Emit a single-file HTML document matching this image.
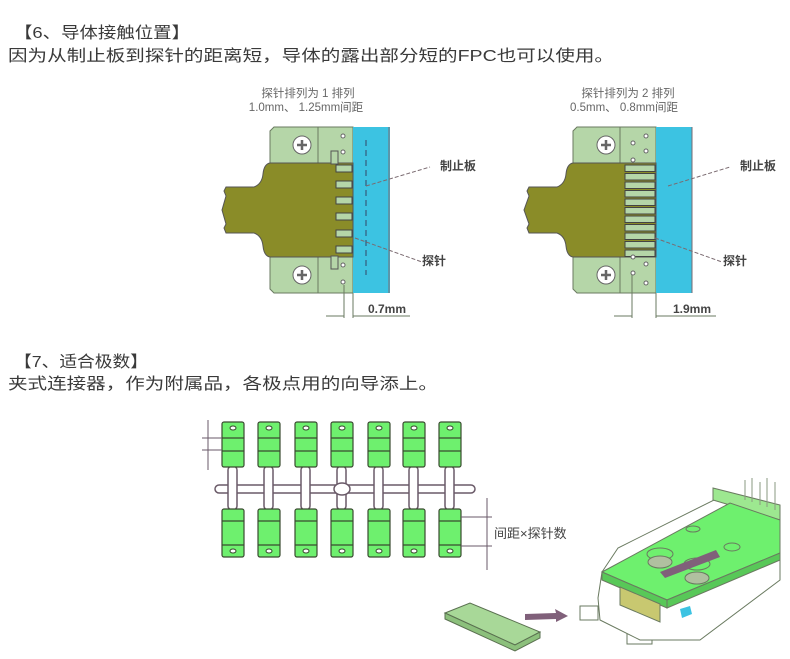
<!DOCTYPE html>
<html><head><meta charset="utf-8"><style>
html,body{margin:0;padding:0;background:#fff;}
svg{display:block;}
text{font-family:"Liberation Sans","Noto Sans CJK SC",sans-serif;}
</style></head><body>
<svg width="790" height="659" viewBox="0 0 790 659" xmlns="http://www.w3.org/2000/svg">
<g fill="#3a3a3a" font-size="16">
<text x="14" y="38" textLength="176" lengthAdjust="spacingAndGlyphs">【6、导体接触位置】</text>
<text x="8" y="61" textLength="606" lengthAdjust="spacingAndGlyphs">因为从制止板到探针的距离短，导体的露出部分短的FPC也可以使用。</text>
<text x="14" y="367" textLength="134" lengthAdjust="spacingAndGlyphs">【7、适合极数】</text>
<text x="8" y="389" textLength="430" lengthAdjust="spacingAndGlyphs">夹式连接器，作为附属品，各极点用的向导添上。</text>
</g>
<g fill="#666" font-size="11.5">
<text x="308" y="97" text-anchor="middle">探针排列为 1 排列</text>
<text x="306" y="111" text-anchor="middle">1.0mm、 1.25mm间距</text>
<text x="628" y="97" text-anchor="middle">探针排列为 2 排列</text>
<text x="624" y="111" text-anchor="middle">0.5mm、 0.8mm间距</text>
</g>

<!-- Diagram 1 -->
<g>
<path d="M274,127 H353 V293 H274 L270,289 V131 Z" fill="#b5d6a8" stroke="#6a7a60" stroke-width="1"/>
<line x1="318" y1="127" x2="318" y2="293" stroke="#6a7a60"/>
<rect x="353" y="127" width="37" height="166" fill="#3cc3e2"/>
<line x1="389" y1="127" x2="389" y2="293" stroke="#7a6a70"/>
<line x1="366" y1="140" x2="366" y2="275" stroke="#346" stroke-dasharray="6,4"/>
<path d="M270,163 H353 V257 H270 Q264,256 263,246 Q262,236 254,233 H226 L224,228 L226,224 L222,210 L226,196 L224,191 L226,187 H254 Q262,184 263,174 Q264,164 270,163 Z" fill="#8a8c28" stroke="#555" stroke-width="1"/>
<g fill="#b5d6a8" stroke="#444" stroke-width="1">
<rect x="336" y="165" width="16" height="7"/><rect x="336" y="181" width="16" height="7"/>
<rect x="336" y="197" width="16" height="7"/><rect x="336" y="213" width="16" height="7"/>
<rect x="336" y="230" width="16" height="7"/><rect x="336" y="246" width="16" height="7"/>
</g>
<rect x="331" y="151" width="7" height="13" fill="#b5d6a8" stroke="#555"/>
<rect x="331" y="256" width="7" height="13" fill="#b5d6a8" stroke="#555"/>
<g fill="#fff" stroke="#666"><circle cx="302" cy="145" r="9"/><circle cx="302" cy="275" r="9"/></g>
<g stroke="#666" stroke-width="2.5"><path d="M297,145 H307 M302,140 V150 M297,275 H307 M302,270 V280"/></g>
<g fill="#fff" stroke="#666"><circle cx="343" cy="136" r="2"/><circle cx="343" cy="152" r="2"/><circle cx="343" cy="265" r="2"/><circle cx="343" cy="282" r="2"/></g>
<path d="M366,186 L430,167" stroke="#7a6a70" stroke-dasharray="4,2" fill="none"/>
<path d="M355,238 L422,262" stroke="#7a6a70" stroke-dasharray="4,2" fill="none"/>
<g stroke="#6a7a60"><line x1="344" y1="285" x2="344" y2="318"/><line x1="353" y1="293" x2="353" y2="318"/></g>
<path d="M326,316 H344 M353,316 H410" stroke="#6a7a60" fill="none"/>
</g>
<g fill="#444" font-size="12" font-weight="bold">
<text x="440" y="170">制止板</text><text x="422" y="265">探针</text>
<text x="368" y="313">0.7mm</text>
<text x="740" y="170">制止板</text><text x="723" y="265">探针</text>
<text x="673" y="313">1.9mm</text>
</g>

<!-- Diagram 2 -->
<g>
<path d="M577,127 H656 V293 H577 L573,289 V131 Z" fill="#b5d6a8" stroke="#6a7a60"/>
<line x1="620" y1="127" x2="620" y2="293" stroke="#6a7a60"/>
<rect x="656" y="127" width="36" height="166" fill="#3cc3e2"/>
<line x1="692" y1="127" x2="692" y2="293" stroke="#7a6a70"/>
<path d="M573,163 H656 V257 H573 Q567,256 566,246 Q565,236 557,233 H529 L527,228 L529,224 L524,210 L529,196 L527,191 L529,187 H557 Q565,184 566,174 Q567,164 573,163 Z" fill="#8a8c28" stroke="#555"/>
<g fill="#b5d6a8" stroke="#444">
<rect x="625" y="165" width="30" height="6.5"/><rect x="625" y="173.5" width="30" height="6.5"/>
<rect x="625" y="182" width="30" height="6.5"/><rect x="625" y="190.5" width="30" height="6.5"/>
<rect x="625" y="199" width="30" height="6.5"/><rect x="625" y="207.5" width="30" height="6.5"/>
<rect x="625" y="216" width="30" height="6.5"/><rect x="625" y="224.5" width="30" height="6.5"/>
<rect x="625" y="233" width="30" height="6.5"/><rect x="625" y="241.5" width="30" height="6.5"/>
<rect x="625" y="250" width="30" height="6.5"/>
</g>
<g fill="#fff" stroke="#666"><circle cx="606" cy="145" r="9"/><circle cx="606" cy="275" r="9"/></g>
<g stroke="#666" stroke-width="2.5"><path d="M601,145 H611 M606,140 V150 M601,275 H611 M606,270 V280"/></g>
<g fill="#fff" stroke="#666"><circle cx="646" cy="136" r="2"/><circle cx="633" cy="143" r="2"/><circle cx="646" cy="151" r="2"/><circle cx="633" cy="160" r="2"/><circle cx="633" cy="257" r="2"/><circle cx="646" cy="264" r="2"/><circle cx="633" cy="273" r="2"/><circle cx="646" cy="283" r="2"/></g>
<path d="M668,186 L730,167" stroke="#7a6a70" stroke-dasharray="4,2" fill="none"/>
<path d="M655,238 L722,262" stroke="#7a6a70" stroke-dasharray="4,2" fill="none"/>
<g stroke="#6a7a60"><line x1="632" y1="275" x2="632" y2="318"/><line x1="656" y1="293" x2="656" y2="318"/></g>
<path d="M614,316 H632 M656,316 H716" stroke="#6a7a60" fill="none"/>
</g>

<!-- Section 7 guide -->
<g stroke="#6a5a68" stroke-width="1.5" fill="#fff">
<rect x="215" y="485" width="260" height="8" rx="4"/>
<g>
<rect x="228" y="466" width="9" height="44" rx="4"/><rect x="264" y="466" width="9" height="44" rx="4"/>
<rect x="301" y="466" width="9" height="44" rx="4"/><rect x="337" y="466" width="9" height="44" rx="4"/>
<rect x="374" y="466" width="9" height="44" rx="4"/><rect x="409" y="466" width="9" height="44" rx="4"/>
<rect x="445" y="466" width="9" height="44" rx="4"/>
</g>
<ellipse cx="342" cy="489" rx="8" ry="6"/>
</g>
<g stroke="#3a4a30" stroke-width="1.2">
<g fill="#6ef06e">
<rect x="222" y="422" width="22" height="45" rx="2"/><rect x="258" y="422" width="22" height="45" rx="2"/>
<rect x="295" y="422" width="22" height="45" rx="2"/><rect x="331" y="422" width="22" height="45" rx="2"/>
<rect x="368" y="422" width="22" height="45" rx="2"/><rect x="403" y="422" width="22" height="45" rx="2"/>
<rect x="439" y="422" width="22" height="45" rx="2"/>
<rect x="222" y="509" width="22" height="48" rx="2"/><rect x="258" y="509" width="22" height="48" rx="2"/>
<rect x="295" y="509" width="22" height="48" rx="2"/><rect x="331" y="509" width="22" height="48" rx="2"/>
<rect x="368" y="509" width="22" height="48" rx="2"/><rect x="403" y="509" width="22" height="48" rx="2"/>
<rect x="439" y="509" width="22" height="48" rx="2"/>
</g>
<path d="M222,438 H244 M222,451 H244 M258,438 H280 M258,451 H280 M295,438 H317 M295,451 H317 M331,438 H353 M331,451 H353 M368,438 H390 M368,451 H390 M403,438 H425 M403,451 H425 M439,438 H461 M439,451 H461 M222,521 H244 M222,545 H244 M258,521 H280 M258,545 H280 M295,521 H317 M295,545 H317 M331,521 H353 M331,545 H353 M368,521 H390 M368,545 H390 M403,521 H425 M403,545 H425 M439,521 H461 M439,545 H461" fill="none"/>
<g fill="#fff" stroke-width="1">
<ellipse cx="233" cy="428" rx="3" ry="2"/><ellipse cx="269" cy="428" rx="3" ry="2"/><ellipse cx="306" cy="428" rx="3" ry="2"/><ellipse cx="342" cy="428" rx="3" ry="2"/><ellipse cx="379" cy="428" rx="3" ry="2"/><ellipse cx="414" cy="428" rx="3" ry="2"/><ellipse cx="450" cy="428" rx="3" ry="2"/>
<ellipse cx="233" cy="551" rx="3" ry="2"/><ellipse cx="269" cy="551" rx="3" ry="2"/><ellipse cx="306" cy="551" rx="3" ry="2"/><ellipse cx="342" cy="551" rx="3" ry="2"/><ellipse cx="379" cy="551" rx="3" ry="2"/><ellipse cx="414" cy="551" rx="3" ry="2"/><ellipse cx="450" cy="551" rx="3" ry="2"/>
</g>
</g>
<g stroke="#6a5a68" fill="none">
<path d="M202,438 H222 M202,450 H222 M208,420 V470"/>
<path d="M461,517 H492 M461,546 H492 M487,498 V570"/>
</g>
<text x="494" y="538" font-size="13" fill="#444">间距×探针数</text>

<!-- small plate and arrow -->
<path d="M445,613 L470,603 L540,632 L515,645 Z" fill="#a8d898" stroke="#5a7050"/>
<path d="M445,613 L445,619 L515,651 L540,638 L540,632 L515,645 Z" fill="#8cc07c" stroke="#5a7050"/>
<path d="M525,614 L556,613 L555,609 L568,616 L556,622 L556,619 L525,620 Z" fill="#80607a"/>

<!-- 3D connector -->
<g stroke="#6a7a60" fill="#fff" stroke-width="1">
<path d="M580,606 H598 V620 H580 Z"/>
<path d="M627,628 H652 V644 H627 Z"/>
<path d="M598,598 L602,572 L618,548 L720,497 L780,520 L780,580 L700,640 L640,640 L600,620 Z"/>
<path d="M713,488 L780,505 L780,520 L713,500 Z" fill="#9de890"/>
<path d="M602,572 L730,503 L780,520 L780,553 L667,600 Z" fill="#6ef06e"/>
<path d="M602,572 L667,600 L667,608 L602,580 Z" fill="#58c858"/>
<path d="M667,600 L780,553 L780,560 L667,608 Z" fill="#58c858"/>
<path d="M620,587 L660,604 L660,622 L620,605 Z" fill="#c8c870"/>
<ellipse cx="660" cy="554" rx="13" ry="6" fill="none"/>
<ellipse cx="660" cy="562" rx="12" ry="6" fill="#b0c0a0"/>
<ellipse cx="697" cy="564" rx="13" ry="6" fill="none"/>
<ellipse cx="697" cy="578" rx="12" ry="6" fill="#b0c0a0"/>
<ellipse cx="732" cy="547" rx="8" ry="4" fill="none"/>
<ellipse cx="693" cy="529" rx="7" ry="3" fill="none"/>
</g>
<path d="M665,578 L720,557 L716,550 L660,572 Z" fill="#80607a"/>
<path d="M680,609 L690,606 L692,614 L682,618 Z" fill="#3cc3e2"/>
<g stroke="#8a9a80"><path d="M745,480 V500 M752,478 V502 M760,482 V505 M767,478 V507 M775,482 V510"/></g>
</svg>
</body></html>
